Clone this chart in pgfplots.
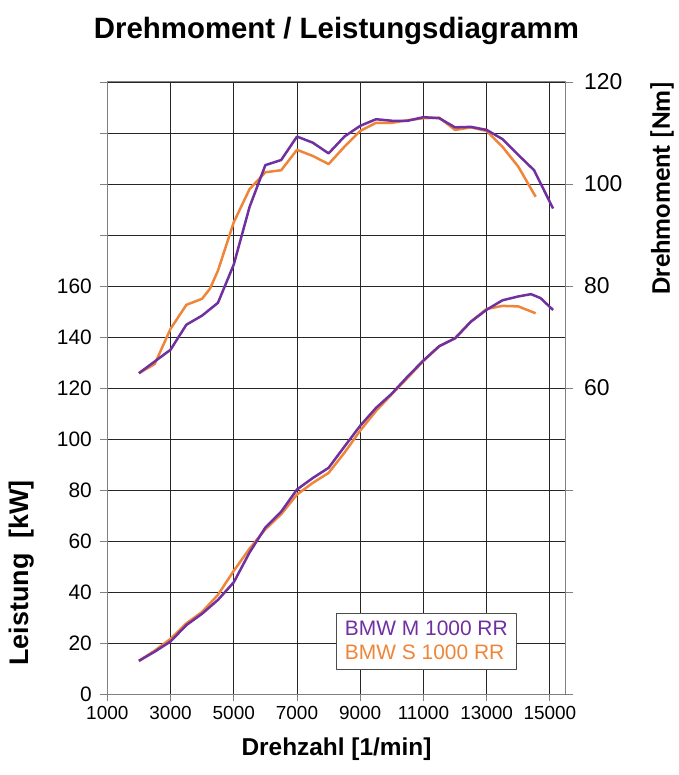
\documentclass[border=0pt]{standalone}
\usepackage{fontspec}
\setmainfont{Liberation Sans}
\newfontfamily\carlito{Carlito}
\usepackage{pgfplots}
\pgfplotsset{compat=1.18}
\definecolor{mpurple}{HTML}{7030A0}
\definecolor{sorange}{HTML}{EF8538}

% Leistung [kW]
\pgfplotstableread{
rpm kw
2000 13.0
2500 16.6
3000 20.6
3500 27.0
4000 31.5
4500 36.9
5000 43.8
5500 55.5
6000 65.3
6500 71.5
7000 80.2
7500 84.7
8000 88.7
8500 97.0
9000 105.2
9500 112.2
10000 117.8
10500 124.5
11000 130.8
11500 136.4
12000 139.5
12500 146.0
13000 150.7
13500 154.4
14000 155.9
14400 156.8
14700 155.3
15100 150.6
}\powerM
\pgfplotstableread{
rpm kw
2000 13.0
2500 17.0
3000 21.6
3500 27.7
4000 32.2
4500 38.9
5000 48.3
5500 57.0
6000 64.6
6500 70.5
7000 78.2
7500 82.8
8000 86.7
8500 94.6
9000 103.3
9500 111.0
10000 117.6
10500 124.0
11000 130.6
11500 136.4
12000 139.5
12500 146.0
13000 151.0
13500 152.2
14000 152.0
14550 149.3
}\powerS

% Drehmoment [Nm]
\pgfplotstableread{
rpm nm
2000 62.9
2500 65.2
3000 67.5
3500 72.4
4000 74.2
4500 76.7
5000 84.2
5500 95.5
6000 103.7
6500 104.7
7000 109.3
7500 108.1
8000 106.0
8500 109.3
9000 111.4
9500 112.7
10000 112.4
10500 112.4
11000 113.1
11500 112.9
12000 111.1
12500 111.2
13000 110.6
13500 108.8
14000 105.7
14500 102.7
15100 95.2
}\torqueM
\pgfplotstableread{
rpm nm
2000 62.9
2500 64.7
3000 71.6
3500 76.3
4000 77.5
4250 79.5
4500 83.0
5000 92.5
5500 99.0
6000 102.3
6500 102.7
7000 106.7
7500 105.5
8000 103.9
8500 107.3
9000 110.4
9500 112.0
10000 112.0
10500 112.5
11000 112.9
11500 113.0
12000 110.6
12500 111.1
13000 110.4
13500 107.3
14000 103.4
14550 97.5
}\torqueS

\begin{document}
\begin{tikzpicture}
\path[use as bounding box] (-107.3bp,-81bp) rectangle (571.7bp,694bp);
\begin{axis}[
  scale only axis, width=458.4bp, height=612bp,
  xmin=1000, xmax=15500, ymin=0, ymax=240,
  xtick={1000,3000,...,15000},
  ytick={0,20,...,240},
  yticklabels={0,20,40,60,80,100,120,140,160,{},{},{},{}},
  scaled x ticks=false,
  xtick pos=bottom, ytick pos=left, tick align=outside,
  major tick length=7bp,
  grid=major, grid style={black!85, line width=0.8bp},
  axis line style={gray, line width=1bp},
  tick style={gray, line width=0.8bp},
  /pgf/number format/assume math mode=true,
  /pgf/number format/1000 sep={},
  xticklabel style={font=\fontsize{19}{22}\selectfont, yshift=-2bp},
  yticklabel style={font=\fontsize{21}{25}\selectfont, xshift=-5bp},
  title={Drehmoment / Leistungsdiagramm},
  title style={font=\bfseries\fontsize{29.5}{32}\selectfont, at={(0.5,1)}, anchor=base, yshift=38bp},
  xlabel={Drehzahl [1/min]},
  xlabel style={font=\bfseries\fontsize{24.5}{28}\selectfont, at={(0.5,0)}, anchor=base, yshift=-61bp},
  ylabel={Leistung\ \ [kW]},
  ylabel style={font=\bfseries\fontsize{27}{30}\selectfont, at={(-0.188,0.198)}, anchor=center},
  line join=round,
]
\addplot[sorange, line width=2.5bp] table[x=rpm, y=kw] {\powerS};
\addplot[mpurple, line width=2.5bp] table[x=rpm, y=kw] {\powerM};
\end{axis}
\begin{axis}[
  scale only axis, width=458.4bp, height=612bp,
  xmin=1000, xmax=15500, ymin=0, ymax=120,
  axis x line=none, axis y line*=right,
  ytick={0,20,...,120},
  yticklabels={{},{},{},60,80,100,120},
  tick align=outside, major tick length=7bp,
  axis line style={gray, line width=1bp},
  tick style={gray, line width=0.8bp},
  /pgf/number format/assume math mode=true,
  yticklabel style={font=\fontsize{23}{27}\selectfont, xshift=8bp},
  ylabel={Drehmoment [Nm]},
  ylabel style={font=\carlito\bfseries\fontsize{27}{30}\selectfont, at={(1.21,0.827)}, anchor=center},
  legend style={at={(0.498,0.133)}, anchor=north west, draw=black!70, line width=0.8bp,
    fill=white, font=\fontsize{21}{24}\selectfont, inner xsep=7bp, inner ysep=6bp, row sep=4bp},
  legend cell align=left,
  line join=round,
]
\addplot[sorange, line width=2.5bp, forget plot] table[x=rpm, y=nm] {\torqueS};
\addplot[mpurple, line width=2.5bp, forget plot] table[x=rpm, y=nm] {\torqueM};
\addlegendimage{empty legend}
\addlegendentry{\textcolor{mpurple}{BMW M 1000 RR}}
\addlegendimage{empty legend}
\addlegendentry{\textcolor{sorange}{BMW S 1000 RR}}
\end{axis}
\end{tikzpicture}
\end{document}
